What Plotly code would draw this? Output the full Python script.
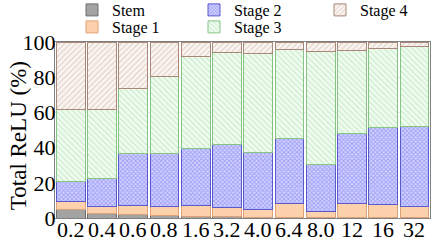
import plotly.graph_objects as go

categories = ["0.2", "0.4", "0.6", "0.8", "1.6", "3.2", "4.0", "6.4", "8.0", "12", "16", "32"]
stem   = [4.9, 2.8, 2.1, 1.7, 1.0, 0.7, 0.5, 0.5, 0.4, 0.4, 0.4, 0.4]
stage1 = [4.6, 3.7, 4.9, 5.1, 6.0, 5.5, 4.5, 7.9, 3.5, 8.0, 7.1, 6.3]
stage2 = [11.5, 15.7, 29.6, 29.6, 32.3, 35.4, 32.1, 36.6, 26.7, 39.5, 44.2, 45.1]
stage3 = [40.4, 39.3, 36.9, 44.2, 52.7, 52.7, 56.2, 50.6, 63.9, 47.2, 44.5, 45.6]
stage4 = [38.6, 38.5, 26.5, 19.4, 8.0, 5.7, 6.7, 4.4, 5.5, 4.9, 3.8, 2.6]
y_ticks = [0, 20, 40, 60, 80, 100]

FONT = "Liberation Serif, Times New Roman, Times, serif"
L, R, T, B, W, H = 55, 11, 42, 24, 441, 242
PLOT_W, PLOT_H = W - L - R, H - T - B

# legend slot (column px, row px) per series
series = [
    ("Stem", stem, dict(color="#a3a3a3", line=dict(color="#6e6e6e", width=1)), (72, 10)),
    ("Stage 1", stage1, dict(color="#fdd1ab", line=dict(color="#e0a077", width=1)), (72, 27)),
    ("Stage 2", stage2, dict(color="#9a9af5",
                             pattern=dict(shape="x", fgcolor="#6b6bf0", bgcolor="#d4d4ff", size=3, solidity=0.5),
                             line=dict(color="#5a5ad0", width=1)), (194, 10)),
    ("Stage 3", stage3, dict(color="#d5f3d5",
                             pattern=dict(shape="\\", fgcolor="#a4dea4", bgcolor="#f3fcf3", size=4, solidity=0.35),
                             line=dict(color="#86c486", width=1)), (194, 27)),
    ("Stage 4", stage4, dict(color="#ebdcd4",
                             pattern=dict(shape="/", fgcolor="#d0b4a6", bgcolor="#fbf6f3", size=4, solidity=0.35),
                             line=dict(color="#a88878", width=1)), (320, 10)),
]

fig = go.Figure()
legends = {}
for i, (name, vals, marker, (lx, ly)) in enumerate(series):
    key = "legend" if i == 0 else f"legend{i + 1}"
    fig.add_trace(go.Bar(x=categories, y=vals, name=name, marker=marker, legend=key, showlegend=True))
    legends[key] = dict(x=(lx - L) / PLOT_W, y=1 + (T - ly) / PLOT_H, xanchor="left", yanchor="middle",
                        orientation="v", bgcolor="rgba(0,0,0,0)", itemwidth=30,
                        font=dict(family=FONT, size=16, color="#000"))

tick_annotations = [dict(text=c, x=i, xref="x", y=0, yref="paper", yanchor="middle", xanchor="center",
                         showarrow=False, yshift=-11, font=dict(family=FONT, size=22, color="#000"))
                    for i, c in enumerate(categories)]

fig.update_layout(
    width=W, height=H,
    margin=dict(l=L, r=R, t=T, b=B, autoexpand=False),
    barmode="stack", bargap=0.08, showlegend=True,
    plot_bgcolor="white", paper_bgcolor="white",
    font=dict(family=FONT, size=22, color="#000"),
    xaxis=dict(type="category", range=[-0.5, len(categories) - 0.5], showline=True, linecolor="#808080",
               linewidth=1, mirror=True, ticks="", showticklabels=False, showgrid=False, automargin=False),
    yaxis=dict(range=[0, 100], tickvals=y_ticks, showline=True, linecolor="#808080", linewidth=1,
               mirror=True, ticks="", ticklen=0, ticklabelstandoff=-6, showgrid=True, gridcolor="#e6e6e6",
               automargin=False, tickfont=dict(family=FONT, size=22), zeroline=False),
    annotations=[dict(text="Total ReLU (%)", xref="paper", yref="paper", x=-0.099, y=0.47,
                      xanchor="center", yanchor="middle", textangle=-90, showarrow=False,
                      font=dict(family=FONT, size=23, color="#000"))] + tick_annotations,
    **legends,
)

fig.write_html("out.html", config={"displayModeBar": False},
               post_script="document.body.style.margin='0';document.body.style.padding='0';"
                           "document.body.style.overflow='hidden';")
